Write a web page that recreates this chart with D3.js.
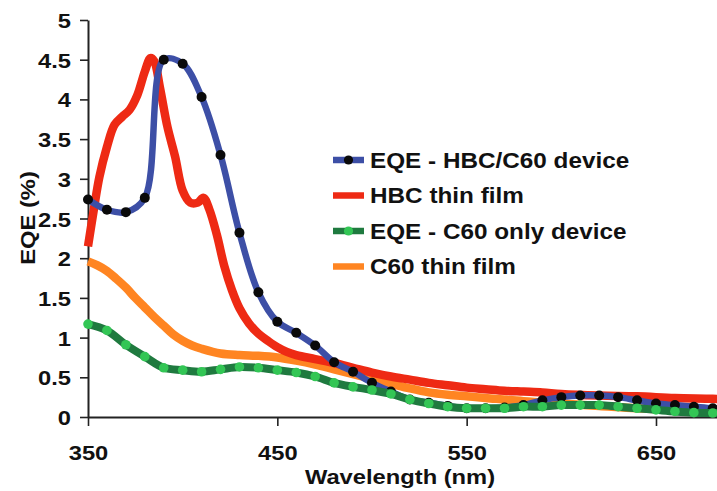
<!DOCTYPE html>
<html>
<head>
<meta charset="utf-8">
<script src="https://cdn.jsdelivr.net/npm/d3@7"></script>
<style>
  html, body { margin: 0; padding: 0; background: #fff; }
  svg { display: block; }
  text { font-family: "Liberation Sans", Arial, sans-serif; font-weight: bold; fill: #111; }
</style>
</head>
<body>
<script>
// ---- data ----
const deviceNm = [350,360,370,380,390,400,410,420,430,440,450,460,470,480,490,500,510,520,530,540,550,560,570,580,590,600,610,620,630,640,650,660,670,680,690];
const eqeHbcC60 = [2.74,2.61,2.58,2.76,4.50,4.45,4.03,3.30,2.32,1.57,1.20,1.06,0.90,0.69,0.57,0.43,0.32,0.22,0.18,0.14,0.11,0.11,0.12,0.15,0.21,0.25,0.27,0.27,0.25,0.21,0.17,0.15,0.13,0.11,0.10];
const eqeC60Only = [1.17,1.09,0.91,0.76,0.62,0.59,0.57,0.60,0.63,0.62,0.59,0.56,0.51,0.43,0.38,0.34,0.29,0.22,0.17,0.13,0.11,0.11,0.11,0.13,0.13,0.15,0.15,0.15,0.13,0.11,0.09,0.07,0.055,0.05,0.05];

const hbcNm = [350,353,356,360,364,368,372,376,380,383,385,388,392,396,400,404,408,411,414,418,422,426,430,435,440,445,450,455,460,470,480,490,500,510,520,530,540,550,560,570,580,590,600,620,640,660,680,690];
const hbcFilm = [2.15,2.6,3.02,3.4,3.68,3.78,3.87,4.05,4.35,4.52,4.48,4.15,3.65,3.28,2.85,2.70,2.70,2.76,2.62,2.30,1.90,1.60,1.37,1.18,1.05,0.96,0.88,0.82,0.78,0.73,0.68,0.62,0.56,0.51,0.47,0.43,0.40,0.37,0.35,0.33,0.32,0.31,0.29,0.27,0.26,0.24,0.23,0.22];

const c60Nm = [350,355,360,365,370,375,380,385,390,395,400,405,410,420,430,440,450,460,470,480,490,500,510,520,530,540,550,560,580,600,620,640,660,680,690];
const c60Film = [1.96,1.91,1.84,1.74,1.63,1.50,1.38,1.26,1.15,1.04,0.96,0.90,0.86,0.80,0.78,0.77,0.75,0.71,0.66,0.60,0.54,0.48,0.42,0.36,0.31,0.28,0.26,0.24,0.20,0.17,0.14,0.11,0.09,0.07,0.06];

const yTicks = [0,0.5,1,1.5,2,2.5,3,3.5,4,4.5,5];
const xTicks = [350,450,550,650];
const legendLabels = ["EQE - HBC/C60 device","HBC thin film","EQE - C60 only device","C60 thin film"];

// ---- layout ----
const W = 717, H = 491;
const SX = 1.13; // horizontal stretch of the original lettering
const svg = d3.select("body").append("svg").attr("width", W).attr("height", H);

const x = d3.scaleLinear().domain([350, 700]).range([88, 88 + 350 * 1.8933]);
const y = d3.scaleLinear().domain([0, 5]).range([417, 20]);

const col = { blue: "#3d4fa6", red: "#ee2a14", orange: "#ff8522", greenLine: "#1f7a3f", greenDot: "#33c655" };

// axes
const yAxis = svg.append("g").attr("transform", "translate(88,0)")
  .call(d3.axisLeft(y).tickValues(yTicks).tickSize(8).tickSizeOuter(0).tickFormat(d => String(d)));
const xAxis = svg.append("g").attr("transform", "translate(0,417)")
  .call(d3.axisBottom(x).tickValues(xTicks).tickSize(9).tickSizeOuter(0).tickFormat(d => String(d)));
[yAxis, xAxis].forEach(g => {
  g.select(".domain").attr("stroke", "#222").attr("stroke-width", 2);
  g.selectAll(".tick line").attr("stroke", "#222").attr("stroke-width", 1.6);
  g.selectAll("text").style("font-size", "21px").style("font-family", "'Liberation Sans', Arial, sans-serif").style("font-weight", "bold").attr("fill", "#111");
});
yAxis.selectAll(".tick text").attr("x", 0).attr("dy", "0.36em").attr("transform", `translate(-17,0) scale(${SX},1)`);
xAxis.selectAll(".tick text").attr("y", 0).attr("dy", 0).attr("transform", `translate(0,43) scale(${SX},1)`);

// axis titles
svg.append("text").attr("text-anchor", "middle").attr("font-size", 21)
  .attr("transform", `translate(400,484) scale(${SX},1)`).text("Wavelength (nm)");
svg.append("text").attr("text-anchor", "middle").attr("font-size", 21).attr("dy", "0.36em")
  .attr("transform", `translate(27,218) rotate(-90) scale(${SX},1)`).text("EQE (%)");

// series
const smooth = d3.line().x(d => x(d[0])).y(d => y(d[1])).curve(d3.curveCatmullRom.alpha(0.5));
const zip = (a, b) => a.map((v, i) => [v, b[i]]);

const plot = svg.append("g");
plot.append("path").datum(zip(c60Nm, c60Film)).attr("d", smooth)
  .attr("fill", "none").attr("stroke", col.orange).attr("stroke-width", 8.5);
plot.append("path").datum(zip(hbcNm, hbcFilm)).attr("d", smooth)
  .attr("fill", "none").attr("stroke", col.red).attr("stroke-width", 8.5);
const blueData = zip(deviceNm, eqeHbcC60);
plot.append("path").datum(blueData).attr("d", smooth)
  .attr("fill", "none").attr("stroke", col.blue).attr("stroke-width", 6.5);
plot.selectAll("circle.b").data(blueData).join("circle").attr("class", "b")
  .attr("cx", d => x(d[0])).attr("cy", d => y(d[1])).attr("r", 5).attr("fill", "#0a0a0a");
const greenData = zip(deviceNm, eqeC60Only);
plot.append("path").datum(greenData).attr("d", smooth)
  .attr("fill", "none").attr("stroke", col.greenLine).attr("stroke-width", 8);
plot.selectAll("circle.g").data(greenData).join("circle").attr("class", "g")
  .attr("cx", d => x(d[0])).attr("cy", d => y(d[1])).attr("r", 4.8).attr("fill", col.greenDot);

// legend
const lg = svg.append("g");
const rows = [
  { c: col.blue, dot: "#0a0a0a" },
  { c: col.red, dot: null },
  { c: col.greenLine, dot: col.greenDot },
  { c: col.orange, dot: null }
];
const rowY = [160, 195.5, 231, 266.5];
rows.forEach((r, i) => {
  lg.append("line").attr("x1", 333).attr("x2", 364).attr("y1", rowY[i]).attr("y2", rowY[i])
    .attr("stroke", r.c).attr("stroke-width", 6.5);
  if (r.dot) lg.append("circle").attr("cx", 348.5).attr("cy", rowY[i]).attr("r", 4.6).attr("fill", r.dot);
  lg.append("text").attr("font-size", 21.5).attr("dy", "0.36em")
    .attr("transform", `translate(370,${rowY[i]}) scale(${SX},1)`).text(legendLabels[i]);
});
</script>
</body>
</html>
